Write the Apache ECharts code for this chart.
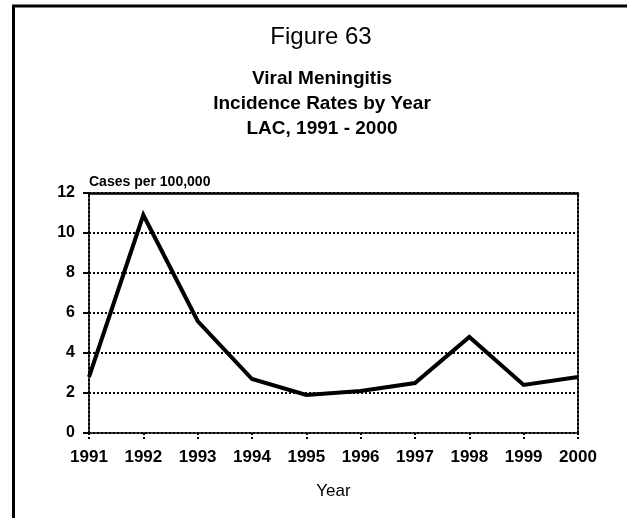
<!DOCTYPE html>
<html>
<head>
<meta charset="utf-8">
<script src="https://cdn.jsdelivr.net/npm/echarts@6/dist/echarts.min.js"></script>
<style>
  html, body { margin: 0; padding: 0; background: #fff; }
  #chart { width: 627px; height: 518px; }
</style>
</head>
<body>
<div id="chart"></div>
<script>
// Viral meningitis incidence, Los Angeles County, per 100,000 population
const years = ['1991', '1992', '1993', '1994', '1995', '1996', '1997', '1998', '1999', '2000'];
const rates = [2.8, 10.9, 5.6, 2.7, 1.9, 2.1, 2.5, 4.8, 2.4, 2.8];
const yMin = 0;
const yMax = 12;
const yStep = 2;

const titleLines = ['Viral Meningitis', 'Incidence Rates by Year', 'LAC, 1991 - 2000'];

const chart = echarts.init(document.getElementById('chart'));

const dotted = { color: '#000', width: 2, type: 'dotted' };

chart.setOption({
  animation: false,
  backgroundColor: '#fff',
  textStyle: { fontFamily: 'Liberation Sans, Arial, sans-serif' },
  title: [
    {
      text: 'Figure 63',
      left: 316, top: 20, textAlign: 'center',
      textStyle: { fontSize: 24, fontWeight: 'normal', color: '#000' }
    },
    {
      text: titleLines.join('\n'),
      left: 317, top: 61, textAlign: 'center',
      textStyle: { fontSize: 19, fontWeight: 'bold', color: '#000', lineHeight: 25 }
    }
  ],
  graphic: [
    {
      // frame around the figure
      type: 'rect',
      shape: { x: 13.5, y: 6, width: 700, height: 600 },
      style: { fill: 'none', stroke: '#000', lineWidth: 3 },
      silent: true
    }
  ],
  grid: { left: 89, right: 49, top: 193, bottom: 85 },
  xAxis: [
    {
      type: 'category',
      data: years,
      boundaryGap: false,
      position: 'bottom',
      name: 'Year',
      nameLocation: 'middle',
      nameGap: 50,
      nameTextStyle: { fontSize: 17, color: '#000' },
      axisLine: { show: true, onZero: false, lineStyle: dotted },
      axisTick: { show: true, length: 8, lineStyle: dotted },
      axisLabel: { fontSize: 17, fontWeight: 'bold', color: '#000', margin: 16 },
      splitLine: { show: false }
    },
    {
      // solid top edge of the plot area
      type: 'category',
      data: years,
      boundaryGap: false,
      position: 'top',
      z: 10,
      axisLine: { show: true, onZero: false, lineStyle: { color: '#000', width: 2.5 } },
      axisTick: { show: false },
      axisLabel: { show: false },
      splitLine: { show: false }
    }
  ],
  yAxis: [
    {
      type: 'value',
      min: yMin, max: yMax, interval: yStep,
      name: 'Cases per 100,000',
      nameLocation: 'end',
      nameGap: 4,
      nameTextStyle: { fontSize: 14, fontWeight: 'bold', color: '#000', align: 'left' },
      axisLine: { show: true, onZero: false, lineStyle: dotted },
      axisTick: { show: true, length: 6, lineStyle: { color: '#000', width: 2 } },
      axisLabel: { fontSize: 16, fontWeight: 'bold', color: '#000', margin: 14 },
      splitLine: { show: true, lineStyle: dotted }
    },
    {
      // dotted right edge of the plot area
      type: 'value',
      min: yMin, max: yMax, interval: yStep,
      position: 'right',
      axisLine: { show: true, onZero: false, lineStyle: dotted },
      axisTick: { show: false },
      axisLabel: { show: false },
      splitLine: { show: false }
    }
  ],
  series: [
    {
      type: 'line',
      data: rates,
      symbol: 'none',
      lineStyle: { color: '#000', width: 4, join: 'miter' },
      z: 5
    }
  ]
});
</script>
</body>
</html>
